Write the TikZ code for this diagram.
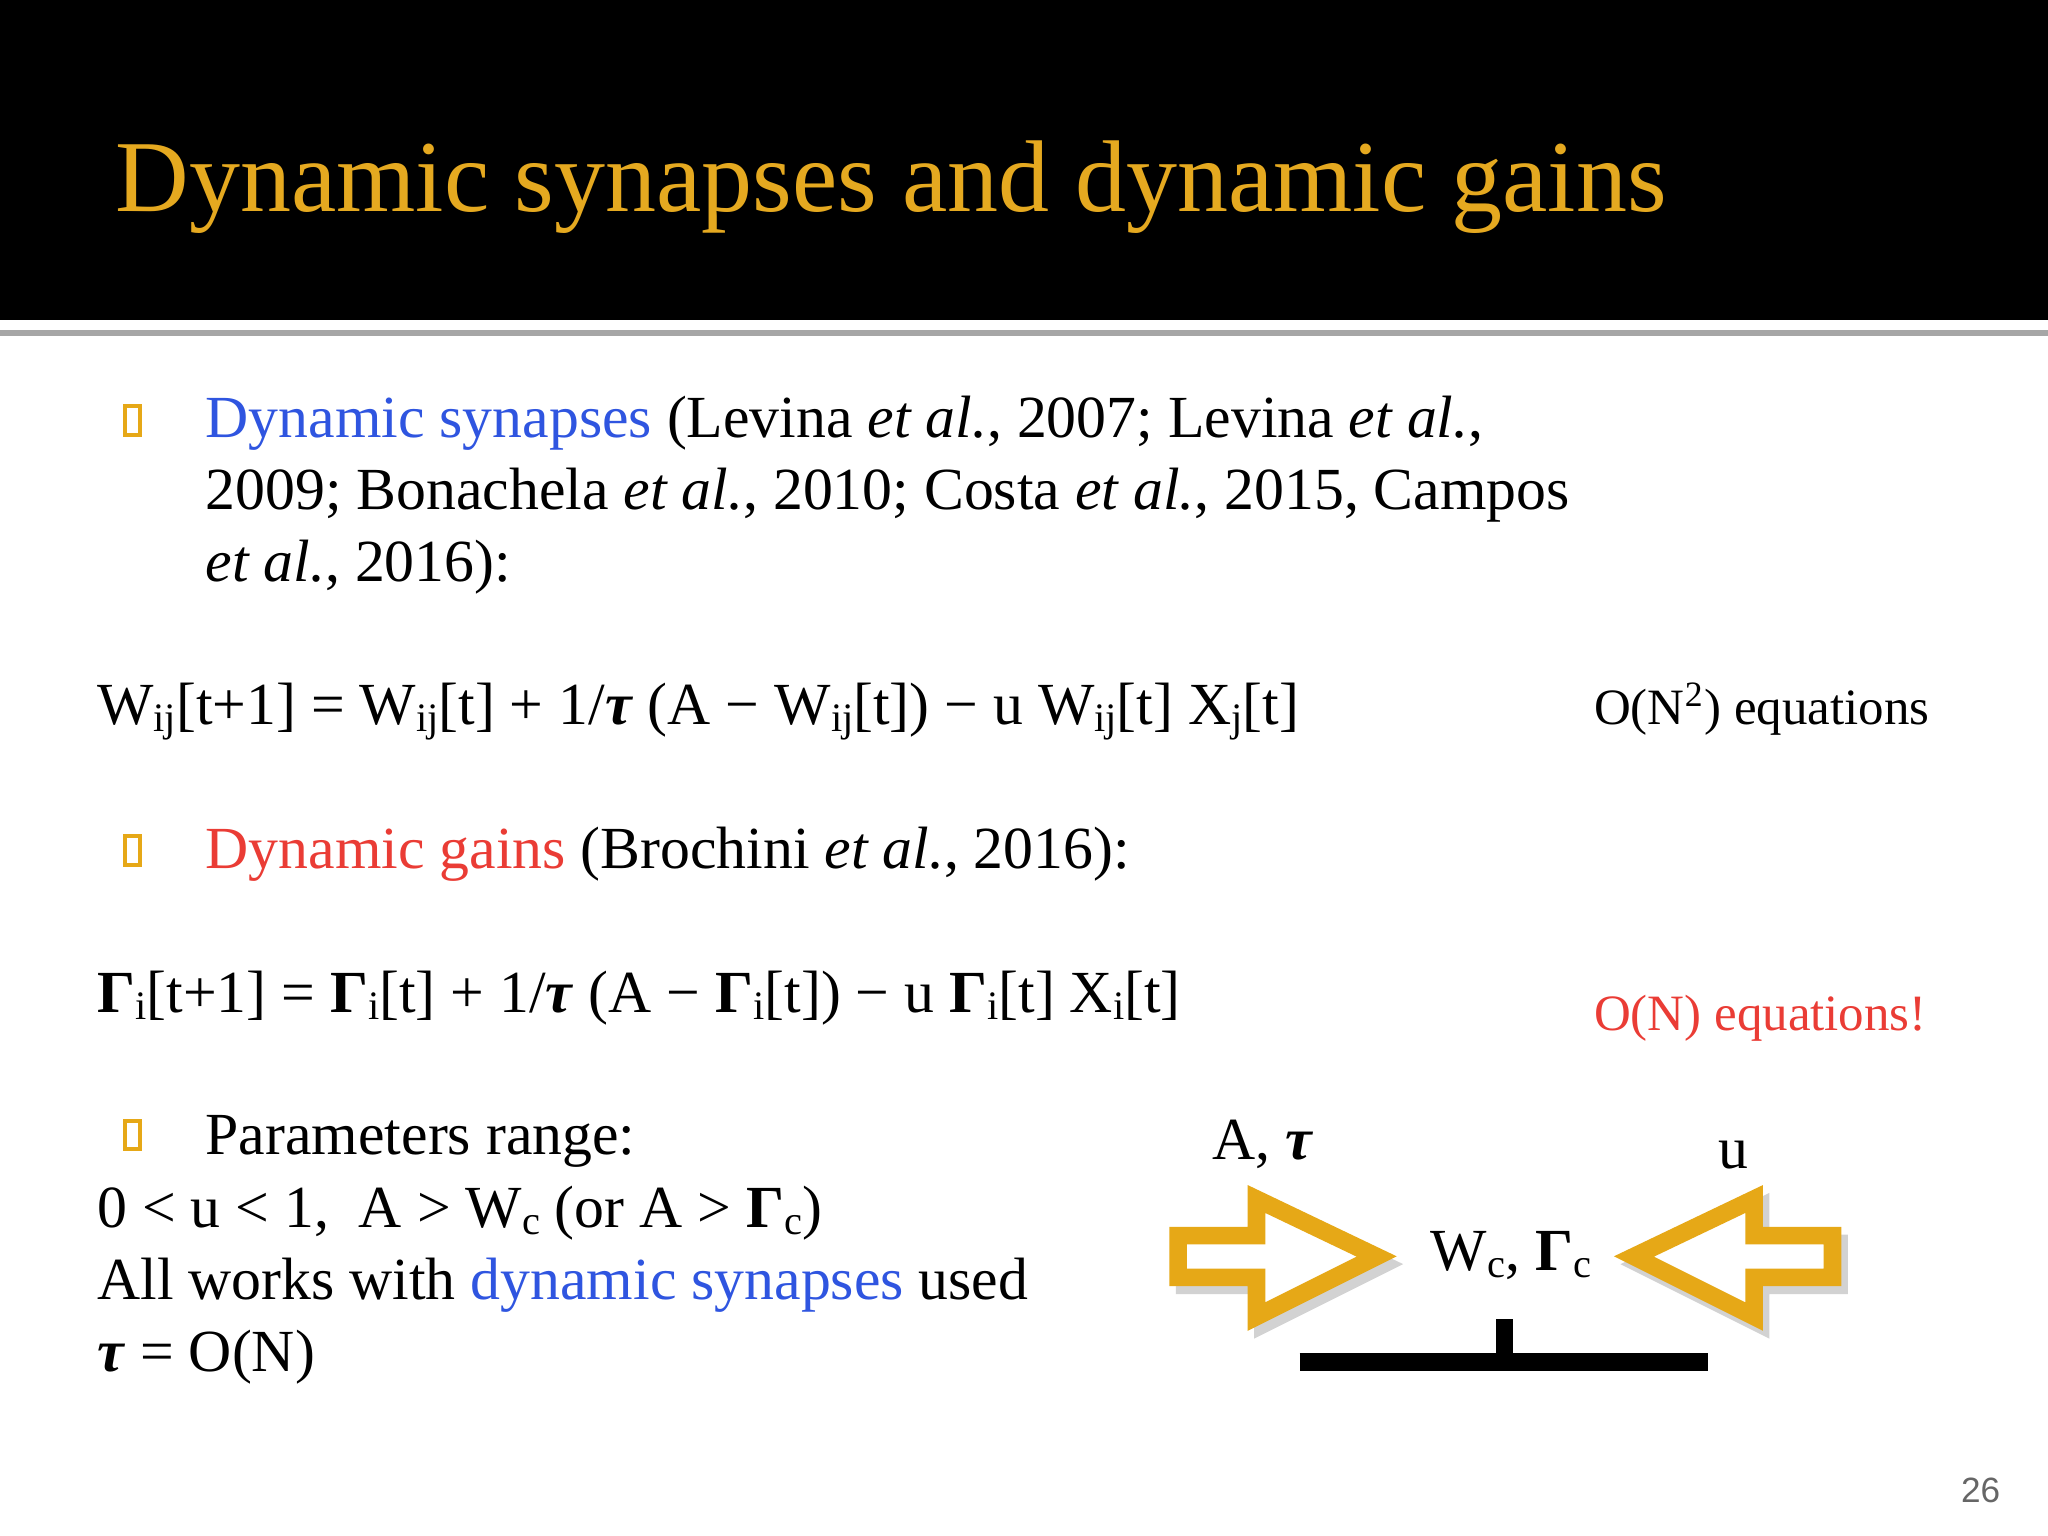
\documentclass[tikz,border=0pt]{standalone}
\usepackage{fontspec}
\setmainfont{Liberation Serif}
\setsansfont{Liberation Sans}
\definecolor{ttl}{HTML}{E5A920}
\definecolor{blu}{HTML}{2F55E0}
\definecolor{rd}{HTML}{EA3C35}
\definecolor{org}{HTML}{E6A817}
\newcommand\lo[1]{\raisebox{-0.25ex}{\fontsize{11.5pt}{12pt}\selectfont #1}}
\newcommand\tu{\textbf{\textit{τ}}}
\newcommand\G{\textbf{Γ}}
\tikzset{txt/.style={anchor=base west,inner sep=0pt,font=\fontsize{17pt}{20pt}\selectfont},
bul/.style={draw=org,line width=1.2pt},
barrow/.style={draw=org,line width=5pt,line join=miter,fill=white}}
\begin{document}
\begin{tikzpicture}[x=0.013061cm,y=-0.013061cm]
\useasboundingbox (0,0) rectangle (1568,1176);
\fill[white] (0,0) rectangle (1568,1176);
\fill[black] (0,0) rectangle (1568,245);
\draw[gray!70,line width=1.5pt] (0,255) -- (1568,255);
\node[anchor=base west,inner sep=0pt,text=ttl,font=\fontsize{29pt}{34pt}\selectfont] (title) at (88,162) {Dynamic synapses and dynamic gains};
\foreach \yy in {311,640,858}{\draw[bul] (96,\yy) rectangle (107,\yy+22);}
\node[txt] (l1) at (157,335) {\textcolor{blu}{Dynamic synapses} (Levina \textit{et al.}, 2007; Levina \textit{et al.},};
\node[txt] (l2) at (157,390) {2009; Bonachela \textit{et al.}, 2010; Costa \textit{et al.}, 2015, Campos};
\node[txt] (l3) at (157,445) {\textit{et al.}, 2016):};
\node[txt] (e1) at (74,555) {W\lo{ij}[t+1] = W\lo{ij}[t] + 1/\tu{} (A − W\lo{ij}[t]) − u W\lo{ij}[t] X\lo{j}[t]};
\node[txt,font=\fontsize{14.5pt}{18pt}\selectfont] (o1) at (1220,555) {O(N\textsuperscript{2}) equations};
\node[txt] (l4) at (157,665) {\textcolor{rd}{Dynamic gains} (Brochini \textit{et al.}, 2016):};
\node[txt] (e2) at (74,775) {\G\lo{i}[t+1] = \G\lo{i}[t] + 1/\tu{} (A − \G\lo{i}[t]) − u \G\lo{i}[t] X\lo{i}[t]};
\node[txt,text=rd,font=\fontsize{14.5pt}{18pt}\selectfont] (o2) at (1220,789) {O(N) equations!};
\node[txt] (l5) at (157,884) {Parameters range:};
\node[txt] (l6) at (74,940) {0 < u < 1,\ \ A > W\lo{c} (or A > \G\lo{c})};
\node[txt] (l7) at (74,995) {All works with \textcolor{blu}{dynamic synapses} used};
\node[txt] (l8) at (74,1050) {\tu{} = O(N)};
\node[txt] (at) at (928,888) {A, \tu};
\node[txt] (uu) at (1315,895) {u};
\node[txt] (wc) at (1095,973) {W\lo{c}, \G\lo{c}};
\begin{scope}[shift={(5,6)}]
\draw[draw=gray!35,line width=5pt,line join=miter] (902,946)--(962,946)--(962,918)--(1054,962)--(962,1008)--(962,978)--(902,978)--cycle;
\draw[draw=gray!35,line width=5pt,line join=miter] (1403,946)--(1343,946)--(1343,918)--(1251,962)--(1343,1008)--(1343,978)--(1403,978)--cycle;
\end{scope}
\draw[barrow] (902,946)--(962,946)--(962,918)--(1054,962)--(962,1008)--(962,978)--(902,978)--cycle;
\draw[barrow] (1403,946)--(1343,946)--(1343,918)--(1251,962)--(1343,1008)--(1343,978)--(1403,978)--cycle;
\draw[line width=5pt] (995,1043) -- (1308,1043);
\draw[line width=5pt] (1152,1010) -- (1152,1041);
\node[anchor=base east,inner sep=0pt,text=gray!80!black,font=\sffamily\fontsize{10pt}{12pt}\selectfont] (pg) at (1532,1150) {26};
\end{tikzpicture}
\end{document}
